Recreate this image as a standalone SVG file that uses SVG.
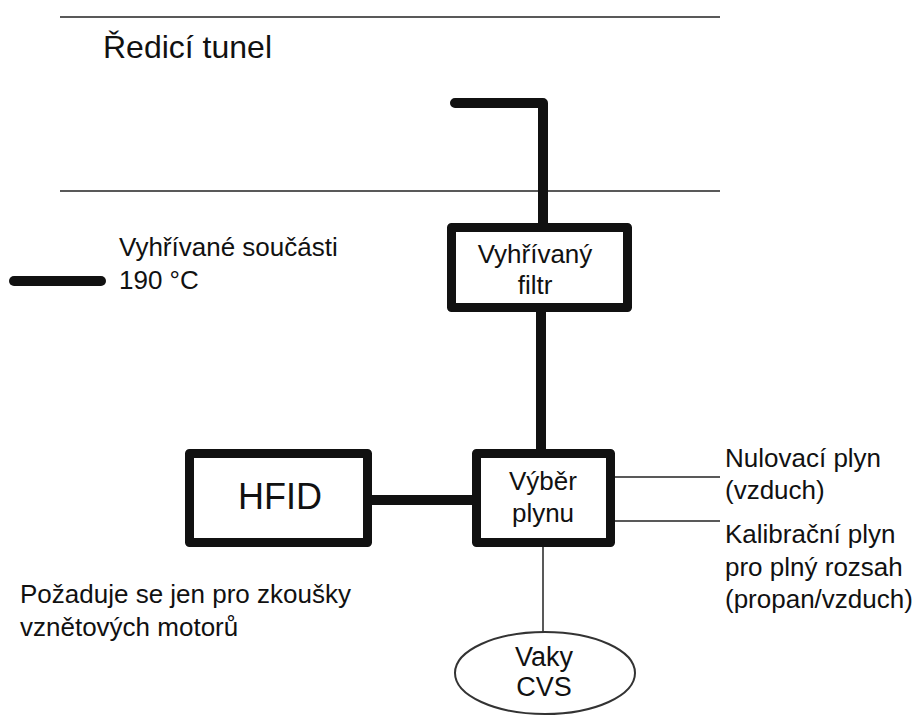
<svg xmlns="http://www.w3.org/2000/svg" width="920" height="716" viewBox="0 0 920 716">
  <style>
    text { font-family: "Liberation Sans", Arial, sans-serif; fill: #111; }
    .lbl { font-size: 26px; }
    .mid { text-anchor: middle; }
    .thin { stroke: #222; stroke-width: 1.5; fill: none; }
    .heat { stroke: #111; stroke-width: 10; fill: none; stroke-linejoin: round; stroke-linecap: round; }
    .box { stroke: #111; stroke-width: 9; fill: #fff; stroke-linejoin: round; }
  </style>
  <rect width="920" height="716" fill="#fff"/>

  <!-- dilution tunnel walls -->
  <g id="tunnel">
    <line class="thin" x1="60" y1="17" x2="720" y2="17"/>
    <line class="thin" x1="60" y1="191" x2="720" y2="191"/>
    <text x="103" y="58" font-size="32">Ředicí tunel</text>
  </g>

  <!-- legend -->
  <g id="legend">
    <line class="heat" x1="14" y1="281" x2="101" y2="281"/>
    <text class="lbl" x="119" y="256">Vyhřívané součásti</text>
    <text class="lbl" x="119" y="289">190 °C</text>
  </g>

  <g id="connectors">
    <polyline class="heat" points="455,103 543,103 543,226"/>
    <line class="heat" x1="541" y1="311" x2="541" y2="452" stroke-linecap="butt"/>
    <line class="heat" x1="372" y1="500" x2="473" y2="500" stroke-linecap="butt"/>
    <line class="thin" x1="615" y1="477" x2="720" y2="477"/>
    <line class="thin" x1="615" y1="521" x2="720" y2="521"/>
    <line class="thin" x1="543" y1="547" x2="543" y2="632"/>
  </g>

  <g id="filter">
    <rect class="box" x="451.5" y="227.5" width="176" height="80"/>
    <text class="lbl mid" x="535" y="263">Vyhřívaný</text>
    <text class="lbl mid" x="535" y="294">filtr</text>
  </g>

  <g id="hfid">
    <rect class="box" x="189.5" y="453.5" width="178" height="89"/>
    <text class="mid" x="280" y="509" font-size="36">HFID</text>
  </g>

  <g id="gas-select">
    <rect class="box" x="476.5" y="453.5" width="134" height="89"/>
    <text class="lbl mid" x="543" y="490">Výběr</text>
    <text class="lbl mid" x="543" y="522">plynu</text>
  </g>

  <g id="zero-gas">
    <text class="lbl" x="725" y="467">Nulovací plyn</text>
    <text class="lbl" x="725" y="499">(vzduch)</text>
  </g>

  <g id="span-gas">
    <text class="lbl" x="725" y="543">Kalibrační plyn</text>
    <text class="lbl" x="725" y="576">pro plný rozsah</text>
    <text class="lbl" x="725" y="608">(propan/vzduch)</text>
  </g>

  <g id="cvs-bags">
    <ellipse cx="545" cy="673" rx="90" ry="41" fill="#fff" stroke="#333" stroke-width="2"/>
    <text class="mid" x="544" y="666" font-size="27">Vaky</text>
    <text class="mid" x="544" y="696" font-size="27">CVS</text>
  </g>

  <g id="note">
    <text class="lbl" x="20" y="603">Požaduje se jen pro zkoušky</text>
    <text class="lbl" x="20" y="636">vznětových motorů</text>
  </g>
</svg>
